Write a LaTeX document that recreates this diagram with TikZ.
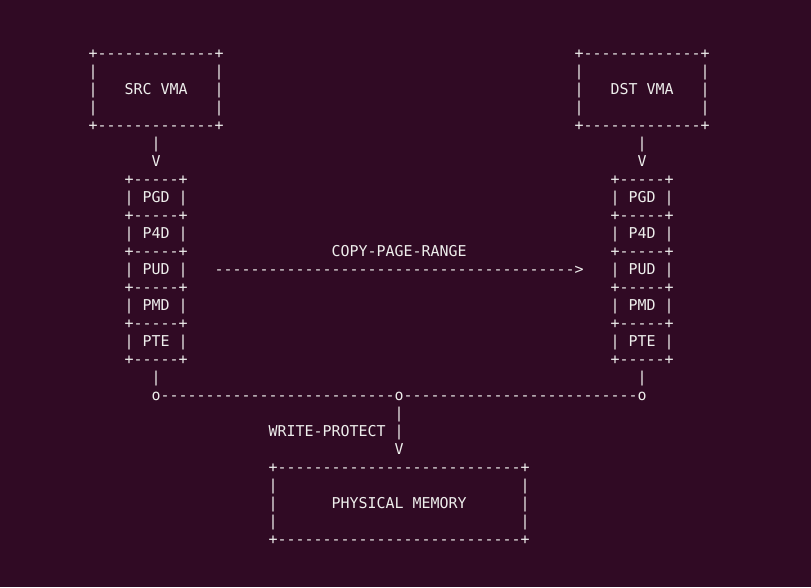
\documentclass[tikz,border=0pt]{standalone}
\usepackage{fontspec}
\setmonofont{DejaVu Sans Mono}
\definecolor{termbg}{HTML}{300A24}
\definecolor{termfg}{HTML}{EEEEEC}
\tikzset{
  asc/.style={anchor=west, inner sep=0pt, text height=11pt, text depth=0pt,
    text=termfg, font=\ttfamily\fontsize{14.95}{18}\selectfont}
}

\begin{document}
\begin{tikzpicture}[x=9pt, y=-18pt]

\fill[termbg] (-9.833,-2.944) rectangle (80.278,29.667);


% source side
\node[asc] (srct) at (0,0) {+-------------+};
\node[asc] (srcl1) at (0,1) {|};
\node[asc] (srcr1) at (14,1) {|};
\node[asc] (srcl2) at (0,2) {|};
\node[asc] (src) at (4,2) {SRC VMA};
\node[asc] (srcr2) at (14,2) {|};
\node[asc] (srcl3) at (0,3) {|};
\node[asc] (srcr3) at (14,3) {|};
\node[asc] (srcb) at (0,4) {+-------------+};

\node[asc] (srcbar) at (7,5) {|};
\node[asc] (srcv) at (7,6) {V};

\node[asc] (lsep0) at (4,7) {+-----+};
\node[asc] (lpgd) at (4,8) {| PGD |};
\node[asc] (lsep1) at (4,9) {+-----+};
\node[asc] (lp4d) at (4,10) {| P4D |};
\node[asc] (lsep2) at (4,11) {+-----+};
\node[asc] (lpud) at (4,12) {| PUD |};
\node[asc] (lsep3) at (4,13) {+-----+};
\node[asc] (lpmd) at (4,14) {| PMD |};
\node[asc] (lsep4) at (4,15) {+-----+};
\node[asc] (lpte) at (4,16) {| PTE |};
\node[asc] (lsep5) at (4,17) {+-----+};

\node[asc] (lbar) at (7,18) {|};


% destination side
\begin{scope}[shift={(54,0)}]

\node[asc] (dstt) at (0,0) {+-------------+};
\node[asc] (dstl1) at (0,1) {|};
\node[asc] (dstr1) at (14,1) {|};
\node[asc] (dstl2) at (0,2) {|};
\node[asc] (dst) at (4,2) {DST VMA};
\node[asc] (dstr2) at (14,2) {|};
\node[asc] (dstl3) at (0,3) {|};
\node[asc] (dstr3) at (14,3) {|};
\node[asc] (dstb) at (0,4) {+-------------+};

\node[asc] (dstbar) at (7,5) {|};
\node[asc] (dstv) at (7,6) {V};

\node[asc] (rsep0) at (4,7) {+-----+};
\node[asc] (rpgd) at (4,8) {| PGD |};
\node[asc] (rsep1) at (4,9) {+-----+};
\node[asc] (rp4d) at (4,10) {| P4D |};
\node[asc] (rsep2) at (4,11) {+-----+};
\node[asc] (rpud) at (4,12) {| PUD |};
\node[asc] (rsep3) at (4,13) {+-----+};
\node[asc] (rpmd) at (4,14) {| PMD |};
\node[asc] (rsep4) at (4,15) {+-----+};
\node[asc] (rpte) at (4,16) {| PTE |};
\node[asc] (rsep5) at (4,17) {+-----+};

\node[asc] (rbar) at (7,18) {|};

\end{scope}


% copy arrow
\node[asc] (copylabel) at (27,11) {COPY-PAGE-RANGE};
\node[asc] (copy) at (14,12) {---------------------------------------->};


% write protect
\node[asc] (join) at (7,19) {o--------------------------o--------------------------o};
\node[asc] (wpbar) at (34,20) {|};
\node[asc] (wplabel) at (20,21) {WRITE-PROTECT |};
\node[asc] (wpv) at (34,22) {V};


% physical memory
\node[asc] (memt) at (20,23) {+---------------------------+};
\node[asc] (meml1) at (20,24) {|};
\node[asc] (memr1) at (48,24) {|};
\node[asc] (meml2) at (20,25) {|};
\node[asc] (mem) at (27,25) {PHYSICAL MEMORY};
\node[asc] (memr2) at (48,25) {|};
\node[asc] (meml3) at (20,26) {|};
\node[asc] (memr3) at (48,26) {|};
\node[asc] (memb) at (20,27) {+---------------------------+};

\end{tikzpicture}
\end{document}
